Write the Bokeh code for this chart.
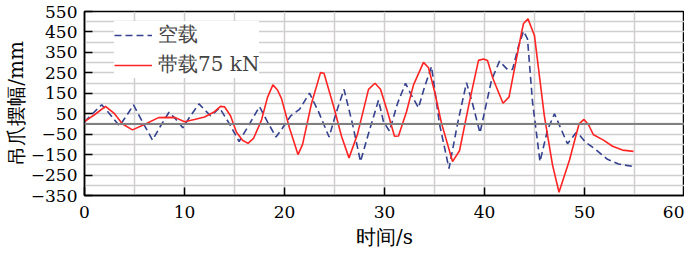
from bokeh.plotting import figure
from bokeh.models import FixedTicker, Span, Legend, LegendItem, ColumnDataSource
from bokeh.embed import file_html
from bokeh.resources import INLINE

# ---- data ----
empty_t = [0, 0.8, 1.72, 2.5, 3.5, 4.2, 4.9, 5.8, 6.8, 7.6, 8.45, 9.1, 9.83, 10.6, 11.45,
           12.0, 12.6, 13.0, 13.5, 14.5, 15.46, 16.5, 17.5, 18.3, 19.15, 19.8, 20.65, 21.5,
           22.5, 23.4, 24.46, 25.2, 25.95, 26.8, 27.6, 28.5, 29.4, 29.9, 30.5, 31.3, 32.1,
           32.7, 33.4, 34.0, 34.7, 35.5, 36.45, 37.3, 38.2, 38.8, 39.55, 40.1, 40.7, 41.5,
           42.3, 42.8, 43.4, 43.9, 44.3, 44.8, 45.55, 46.3, 47.0, 47.7, 48.3, 49.15, 49.6,
           50.1, 51.1, 52.3, 53.4, 54.95]
empty_y = [10, 50, 94, 50, -10, 40, 93, 10, -79, -10, 57, 25, -19, 40, 98,
           70, 40, 55, 79, 0, -86, 0, 85, 10, -64, -20, 41, 71,
           151, 60, -64, 60, 169, 0, -184, -30, 116, 11, -35, 100, 199,
           140, 79, 180, 281, 0, -218, 0, 202, 100, -44, 80, 214, 307,
           266, 266, 380, 454, 416, 109, -184, -30, 50, -30, -97, -43, -60,
           -89, -124, -173, -196, -209]

load_t = [0, 1, 2.1, 3, 3.8, 4.8, 6.1, 7.4, 8.3, 9.1, 10.0, 11.0, 12.0, 13.0, 13.6,
          14.0, 14.6, 15.2, 15.8, 16.35, 16.9, 17.7, 18.3, 18.84, 19.3, 19.7, 20.5, 21.35,
          21.8, 22.7, 23.6, 23.95, 24.95, 25.7, 26.45, 27.3, 28.4, 29.05, 29.6, 30.3, 31.0,
          31.4, 32.2, 32.9, 33.9, 34.4, 35.0, 35.7, 36.8, 37.5, 38.5, 39.4, 39.9, 40.3,
          40.85, 41.85, 42.45, 43.7, 43.9, 44.35, 45.0, 45.98, 46.8, 47.45, 48.5, 49.45, 49.95,
          50.4, 50.9, 51.9, 52.8, 53.8, 54.9]
load_y = [11, 45, 86, 50, 0, -29, 0, 31, 32, 31, 11, 22, 34, 60, 86,
          84, 40, -41, -80, -95, -71, 19, 130, 191, 166, 124, -20, -150,
          -101, 100, 251, 248, 79, -60, -166, -50, 169, 199, 170, 60, -60,
          -59, 60, 191, 301, 275, 160, 4, -184, -131, 109, 311, 318, 310,
          221, 101, 131, 446, 491, 514, 431, 41, -200, -334, -176, 0, 22,
          -4, -53, -79, -109, -128, -134]

series_labels = ["空载", "带载75 kN"]
x_ticks = [0, 10, 20, 30, 40, 50, 60]
y_ticks = [-350, -250, -150, -50, 50, 150, 250, 350, 450, 550]
y_tick_labels = {v: (f"\u2212{abs(v)}" if v < 0 else str(v)) for v in y_ticks}
x_title = "时间/s"
y_title = "吊爪摆幅/mm"

SERIF = "DejaVu Serif"

p = figure(width=684, height=253, output_backend="svg", toolbar_location=None,
           x_range=(0, 60), y_range=(-350, 550),
           min_border_left=78, min_border_right=0, min_border_top=11, min_border_bottom=58)

p.background_fill_color = "white"
p.outline_line_color = "black"
p.outline_line_width = 1.5

# grid
p.xgrid.ticker = FixedTicker(ticks=list(range(0, 61, 5)))
p.ygrid.ticker = FixedTicker(ticks=list(range(-350, 551, 50)))
p.xgrid.grid_line_color = "#d2cccc"
p.ygrid.grid_line_color = "#cfcfcf"
p.xgrid.grid_line_width = 1.5
p.ygrid.grid_line_width = 1.5

zero = Span(location=0, dimension="width", line_color="#808080", line_width=2)
p.add_layout(zero)

# axes
for ax in (p.xaxis[0], p.yaxis[0]):
    ax.axis_line_color = "black"
    ax.axis_line_width = 1.5
    ax.major_tick_in = 8
    ax.major_tick_out = 0
    ax.major_tick_line_color = "black"
    ax.major_tick_line_width = 1.5
    ax.minor_tick_line_color = None
    ax.major_label_text_font = SERIF
    ax.major_label_text_font_size = "17px"
    ax.major_label_text_color = "black"
    ax.axis_label_text_font = SERIF
    ax.axis_label_text_font_size = "20px"
    ax.axis_label_text_font_style = "normal"
    ax.axis_label_text_color = "black"

p.xaxis.ticker = FixedTicker(ticks=x_ticks)
p.yaxis.ticker = FixedTicker(ticks=y_ticks)
p.yaxis.major_label_overrides = y_tick_labels
p.xaxis.axis_label = x_title
p.yaxis.axis_label = y_title
p.xaxis.major_label_standoff = 10
p.yaxis.major_label_standoff = 7
p.xaxis.axis_label_standoff = 4
p.yaxis.axis_label_standoff = 0

src_e = ColumnDataSource(dict(t=empty_t, y=empty_y))
src_l = ColumnDataSource(dict(t=load_t, y=load_y))
r_e = p.line("t", "y", source=src_e, line_color="#34418f", line_width=1.6, line_dash="7 4")
r_l = p.line("t", "y", source=src_l, line_color="#ff2424", line_width=1.6)

legend = Legend(items=[LegendItem(label=series_labels[0], renderers=[r_e]),
                       LegendItem(label=series_labels[1], renderers=[r_l])],
                location=(30, 117), margin=0, padding=6, spacing=3,
                glyph_width=38, glyph_height=24, label_height=24,
                label_text_font=SERIF, label_text_font_size="20px",
                label_standoff=6,
                background_fill_color="white", background_fill_alpha=1.0,
                border_line_color=None)
p.add_layout(legend)

open("out.html", "w").write(file_html(p, INLINE))
